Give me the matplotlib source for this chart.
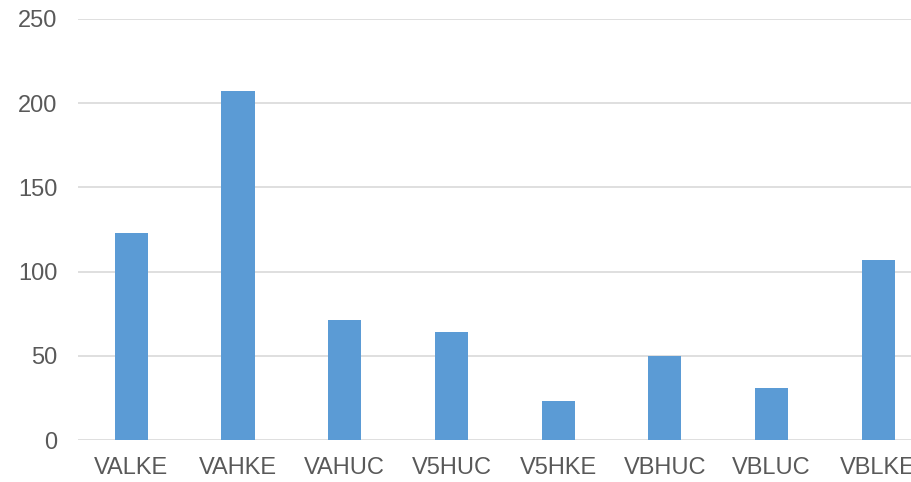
import numpy as np
import matplotlib.pyplot as plt

plt.rcParams['font.family'] = ['Liberation Sans', 'DejaVu Sans']

categories = ['VALKE', 'VAHKE', 'VAHUC', 'V5HUC', 'V5HKE', 'VBHUC', 'VBLUC', 'VBLKE']
values = [123, 207, 71, 64, 23, 50, 31, 107]
y_ticks = [0, 50, 100, 150, 200, 250]

fig = plt.figure(figsize=(9.12, 4.82), dpi=100)
# plot area runs past the right edge of the picture, like in the original
ax = fig.add_axes([0.0855, 0.0871, 0.936, 0.874])

x = np.arange(len(categories))
ax.bar(x, values, width=0.31, color='#5B9BD5', zorder=3)

ax.set_xlim(-0.5, len(categories) - 0.5)
ax.set_ylim(0, 250)
ax.set_yticks(y_ticks)
ax.set_xticks(x)
ax.set_xticklabels(categories)

ax.grid(axis='y', color='#D9D9D9', linewidth=1.2, zorder=0)
ax.tick_params(axis='both', length=0, labelsize=17, labelcolor='#595959')
ax.tick_params(axis='y', pad=15)
ax.tick_params(axis='x', pad=12)
for s in ax.spines.values():
    s.set_visible(False)

fig.savefig('out.png', dpi=100)
